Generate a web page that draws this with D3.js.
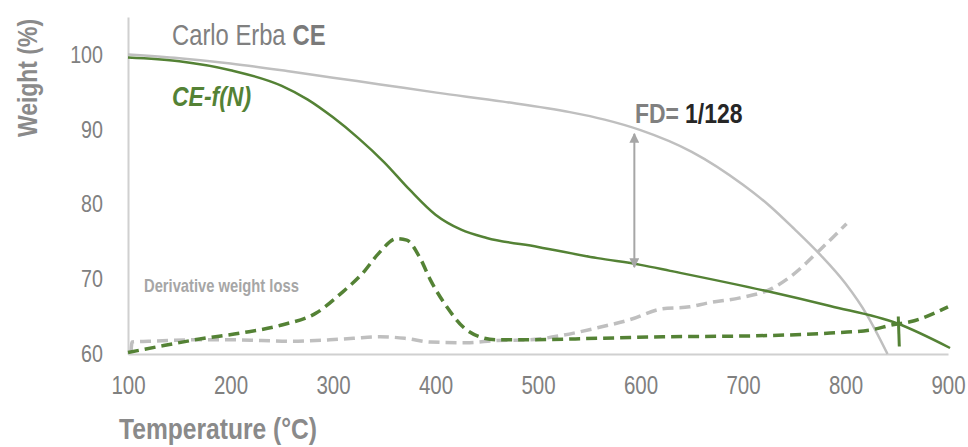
<!DOCTYPE html>
<html><head><meta charset="utf-8">
<script src="https://cdn.jsdelivr.net/npm/d3@7"></script>
<style>
html,body{margin:0;padding:0;background:#fff;}
svg text{font-family:'Liberation Sans Narrow','Arial Narrow','Liberation Sans',Arial,sans-serif;}
</style></head>
<body><svg id="c" width="968" height="447"></svg>
<script>
// ---- data ----
const xTicks = [100,200,300,400,500,600,700,800,900];
const yTicks = [60,70,80,90,100];
// TG curve, Carlo Erba CE (grey solid)
const tgCE = [[100,100],[150,99.5],[200,98.8],[255,97.8],[300,96.9],[346,96.0],[401,94.9],[466,93.7],[531,92.3],[565,91.3],[600,89.9],[650,87.0],[700,82.6],[725,79.9],[750,76.7],[775,73.3],[800,69.4],[821,65.2],[841,60]];
// TG curve, CE-f(N) (green solid)
const tgCEfN = [[100,99.6],[150,99.1],[200,97.9],[250,95.8],[275,94.0],[300,91.6],[325,88.8],[350,85.6],[375,81.9],[400,78.6],[425,76.6],[450,75.5],[500,74.3],[558,72.8],[600,71.9],[629,71.1],[723,68.4],[785,66.4],[850,64.1],[902,60.8]];
// derivative weight loss, CE (grey dashed)
const dtgCE = [[103,60.4],[104,61.6],[120,61.7],[170,61.9],[200,61.9],[230,61.8],[260,61.7],[297,61.9],[320,62.1],[346,62.3],[370,62.1],[395,61.6],[430,61.5],[460,61.8],[492,61.9],[524,62.5],[558,63.5],[590,64.6],[620,66.0],[648,66.3],[665,66.8],[697,67.5],[729,68.8],[746,70.3],[775,73.9],[801,77.4]];
// derivative weight loss, CE-f(N) (green dashed)
const dtgCEfN = [[100,60.2],[130,61.0],[170,62.0],[210,62.8],[251,63.9],[284,65.5],[307,68.0],[329,70.8],[345,73.5],[362,75.4],[372,75.2],[385,72.8],[395,69.9],[411,66.3],[427,63.6],[443,62.3],[460,61.9],[492,61.9],[558,62.1],[622,62.3],[700,62.4],[785,62.8],[824,63.2],[846,63.9],[863,64.3],[900,66.3]];
// glitch in the CE-f(N) derivative trace near 852 °C
const dtgGlitch = [[851.5,65.0],[852.5,61.0]];
// annotation: FD arrow between curves
const fdArrow = {t:594, from:89.4, to:71.6};

// ---- layout ----
const svg = d3.select('#c');
const x = d3.scaleLinear().domain([100,900]).range([128,948]);
const y = d3.scaleLinear().domain([60,105]).range([354,17]);
const green = '#548235', grey = '#bfbfbf', txt = '#808080';
const NARROW = 0.82;

// axes
const xa = svg.append('g').attr('transform','translate(0,354)')
  .call(d3.axisBottom(x).tickValues(xTicks).tickSize(0).tickSizeOuter(0).tickPadding(22).tickFormat(d3.format('d')));
const ya = svg.append('g').attr('transform','translate(128,0)')
  .call(d3.axisLeft(y).tickValues(yTicks).tickSize(0).tickSizeOuter(0).tickPadding(25/NARROW).tickFormat(d3.format('d')));
[xa,ya].forEach(a=>{
  a.select('.domain').attr('stroke','#d0d0d0').attr('stroke-width',2);
  a.selectAll('text').attr('fill',txt).style('font-size','25px').attr('transform',`scale(${NARROW},1)`);
});
ya.selectAll('text').style('font-size','24px');

const line = d3.line().x(d=>x(d[0])).y(d=>y(d[1])).curve(d3.curveMonotoneX);

svg.append('path').datum(dtgCE).attr('d',line).attr('fill','none')
  .attr('stroke',grey).attr('stroke-width',3.5).attr('stroke-dasharray','11,6');
svg.append('path').datum(tgCE).attr('d',line).attr('fill','none')
  .attr('stroke',grey).attr('stroke-width',2.5);
svg.append('path').datum(dtgCEfN).attr('d',line).attr('fill','none')
  .attr('stroke',green).attr('stroke-width',3.5).attr('stroke-dasharray','11,6');
svg.append('path').datum(dtgGlitch).attr('d',d3.line().x(d=>x(d[0])).y(d=>y(d[1]))).attr('fill','none')
  .attr('stroke',green).attr('stroke-width',3);
svg.append('path').datum(tgCEfN).attr('d',line).attr('fill','none')
  .attr('stroke',green).attr('stroke-width',2.5);

// arrow
const defs = svg.append('defs');
defs.append('marker').attr('id','ah').attr('viewBox','0 0 10 10').attr('refX',9).attr('refY',5)
  .attr('markerWidth',5).attr('markerHeight',5).attr('orient','auto-start-reverse')
  .append('path').attr('d','M0,0L10,5L0,10z').attr('fill','#a6a6a6');
svg.append('line').attr('x1',x(fdArrow.t)).attr('x2',x(fdArrow.t))
  .attr('y1',y(fdArrow.from)).attr('y2',y(fdArrow.to))
  .attr('stroke','#a6a6a6').attr('stroke-width',2)
  .attr('marker-start','url(#ah)').attr('marker-end','url(#ah)');

// texts (condensed via horizontal scale to imitate Arial Narrow)
function label(xp, yp, str, size, opts, rot){
  const g = svg.append('g').attr('transform',`translate(${xp},${yp})${rot?` rotate(${rot})`:''} scale(${NARROW},1)`);
  const t = g.append('text').style('font-size',size+'px').text(str);
  Object.entries(opts||{}).forEach(([k,v])=>t.attr(k,v));
  return t;
}
const a1 = label(172,45,'Carlo Erba',29,{fill:'#808080'});
const a1w = a1.node().getComputedTextLength()*NARROW;
label(172+a1w+7,45,'CE',29,{fill:'#7a7a7a','font-weight':'bold'});

label(172,106,'CE-f(N)',28,{fill:green,'font-weight':'bold','font-style':'italic'});

const b1 = label(635,123,'FD=',28,{fill:'#808080','font-weight':'bold'});
const b1w = b1.node().getComputedTextLength()*NARROW;
label(635+b1w+6,123,'1/128',28,{fill:'#262626','font-weight':'bold'});

label(144,292,'Derivative weight loss',18,{fill:'#a6a6a6','font-weight':'bold'});

label(37,78,'Weight (%)',28,{fill:'#8a8a8a','font-weight':'bold','text-anchor':'middle'},-90);
label(218,439,'Temperature (°C)',30,{fill:'#8a8a8a','font-weight':'bold','text-anchor':'middle'});
</script></body></html>
